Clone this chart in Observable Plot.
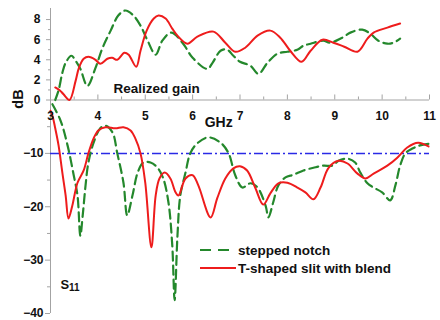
<!DOCTYPE html>
<html>
<head>
<meta charset="utf-8">
<script src="https://cdn.jsdelivr.net/npm/d3@7"></script>
<script src="https://cdn.jsdelivr.net/npm/@observablehq/plot@0.6"></script>
<style>
  html, body { margin: 0; padding: 0; background: #fff; }
  #chart { position: relative; width: 440px; height: 320px; overflow: hidden;
           font-family: "Liberation Sans", Arial, sans-serif; }
  #chart svg.plotlayer { position: absolute; left: 0; top: 0; }
  .legend-row { position: absolute; display: flex; align-items: center;
                font: bold 13.5px "Liberation Sans", Arial, sans-serif; color: #111; white-space: nowrap; }
  .legend-row svg { display: block; margin-right: 2px; }
</style>
</head>
<body>
<div id="chart"></div>
<script>
// Frequency axis (GHz)
const xMajor = [3, 4, 5, 6, 7, 8, 9, 10, 11];
const xMinor = [3.5, 4.5, 5.5, 6.5, 7.5, 8.5, 9.5, 10.5];

// Realized gain axis (dB)
const gainTicks = [0, 2, 4, 6, 8];
const gainMinor = [1, 3, 5, 7];

// S11 axis (dB)
const s11Ticks = [-10, -20, -30, -40];
const s11Minor = [-5, -15, -25, -35];
const s11Threshold = [-10];

const seriesNames = ["stepped notch", "T-shaped slit with blend"];

// Realized gain — T-shaped slit with blend
const gainRedFreq = [3.1, 3.2, 3.27, 3.4, 3.53, 3.6, 3.7, 3.8, 3.95, 4.05, 4.2, 4.3, 4.41, 4.56, 4.65, 4.81, 4.9, 5.03, 5.18, 5.28, 5.43, 5.57, 5.68, 5.89, 6.1, 6.44, 6.69, 6.9, 7.11, 7.37, 7.64, 7.85, 8.06, 8.3, 8.49, 8.74, 8.97, 9.2, 9.48, 9.69, 9.82, 10.11, 10.38];
const gainRed     = [1.25, 0.95, 0.6, 0.0, 1.9, 3.2, 4.1, 4.3, 4.0, 3.6, 4.1, 4.2, 4.0, 4.7, 4.5, 3.3, 4.9, 6.9, 8.1, 8.4, 8.1, 7.1, 6.4, 5.6, 6.3, 6.8, 5.7, 4.8, 5.2, 6.4, 6.9, 6.2, 4.9, 3.8, 4.9, 6.0, 5.7, 5.3, 4.8, 6.1, 6.7, 7.2, 7.6];

// Realized gain — stepped notch
const gainGreenFreq = [3.1, 3.17, 3.25, 3.32, 3.44, 3.53, 3.63, 3.78, 3.95, 4.1, 4.27, 4.43, 4.58, 4.75, 4.9, 5.05, 5.22, 5.36, 5.55, 5.8, 6.0, 6.31, 6.42, 6.59, 6.73, 6.86, 7.0, 7.22, 7.39, 7.58, 7.79, 8.0, 8.21, 8.34, 8.49, 8.76, 8.9, 9.16, 9.33, 9.58, 9.75, 9.92, 10.11, 10.24, 10.38];
const gainGreen     = [0.0, 0.95, 2.7, 3.7, 4.4, 3.9, 3.1, 1.4, 3.2, 5.2, 6.9, 8.4, 8.9, 8.4, 7.4, 5.9, 4.5, 5.9, 6.7, 5.6, 4.2, 3.1, 3.7, 4.9, 5.0, 4.4, 3.8, 3.4, 2.6, 3.7, 4.6, 4.8, 5.0, 5.4, 5.6, 5.9, 5.7, 6.2, 6.7, 7.0, 6.6, 5.9, 5.6, 5.7, 6.1];

// S11 — T-shaped slit with blend
const s11RedFreq = [3.0, 3.04, 3.1, 3.17, 3.25, 3.32, 3.38, 3.46, 3.57, 3.7, 3.8, 3.91, 4.01, 4.16, 4.37, 4.54, 4.69, 4.79, 4.9, 5.0, 5.13, 5.22, 5.3, 5.41, 5.53, 5.64, 5.7, 5.85, 6.0, 6.12, 6.38, 6.52, 6.69, 6.86, 7.0, 7.15, 7.32, 7.49, 7.64, 7.81, 8.0, 8.21, 8.38, 8.55, 8.7, 8.87, 9.08, 9.27, 9.48, 9.65, 9.82, 10.11, 10.32, 10.53, 10.76, 10.98];
const s11Red     = [-2.0, -2.9, -5.3, -8.5, -13.6, -17.9, -22.2, -19.8, -15.5, -13.2, -10, -7.2, -5.7, -5.1, -5.3, -5.1, -5.7, -7.2, -10, -15.5, -27.6, -17.9, -14.7, -13.6, -14.7, -17.3, -17.9, -14.7, -14.1, -16, -22, -18.4, -14.7, -12.8, -12.4, -13.2, -16.4, -19.6, -17.5, -15.6, -15.5, -16.4, -17.3, -18.6, -16.4, -12.7, -11.4, -11.9, -13.8, -14.7, -13.8, -12.3, -10.8, -8.9, -8.0, -8.7];

// S11 — stepped notch
const s11GreenFreq = [3.04, 3.21, 3.36, 3.49, 3.57, 3.63, 3.68, 3.74, 3.8, 3.91, 4.05, 4.16, 4.31, 4.41, 4.54, 4.62, 4.73, 4.84, 4.96, 5.11, 5.26, 5.38, 5.49, 5.57, 5.62, 5.68, 5.74, 5.85, 5.95, 6.1, 6.33, 6.59, 6.76, 6.9, 7.05, 7.22, 7.37, 7.54, 7.6, 7.7, 7.81, 7.96, 8.13, 8.34, 8.55, 8.76, 8.95, 9.08, 9.27, 9.43, 9.54, 9.69, 9.82, 10.0, 10.17, 10.28, 10.38, 10.49, 10.64, 10.8, 10.98];
const s11Green     = [-0.8, -3.8, -8.5, -14.1, -17.9, -25.4, -21.6, -16, -11.7, -8, -5.3, -4.8, -6.1, -10, -15.5, -21.6, -17.9, -13.6, -11.7, -11.7, -12.7, -14.7, -19.2, -27.2, -37.5, -25.4, -17.9, -13.6, -10, -8.1, -7.0, -8, -10, -14.1, -16.4, -15.6, -16.4, -19.8, -22, -19.2, -16, -14.5, -14, -13.2, -12.7, -12.3, -12.3, -11.4, -11.0, -11.7, -13.6, -15.6, -16.4, -17.3, -18.8, -16, -12.3, -10, -9.1, -8.5, -8.2];

const RED = "#ee1c1c";
const GREEN = "#24882c";
const BLUE = "#2a2ae6";
const AXIS = "#a3a3a3";
const INK = "#111";
const FONT = "'Liberation Sans', Arial, sans-serif";
const DASH = "9,5";

const toRows = (fs, vs) => fs.map((f, i) => ({f, v: vs[i]}));

const layerStyle = `background: transparent; overflow: visible; font-family: ${FONT};`;

// Upper panel: realized gain, with the shared frequency axis along its bottom edge
const gainPlot = Plot.plot({
  width: 440, height: 320,
  marginLeft: 50, marginRight: 11, marginTop: 8, marginBottom: 220.5,
  style: layerStyle,
  x: {domain: [3, 11], axis: null},
  y: {domain: [0, 9.1], axis: null},
  marks: [
    Plot.ruleX([3], {stroke: AXIS}),
    Plot.ruleY([0], {stroke: AXIS}),
    Plot.ruleX(xMinor, {x: d => d, y1: 0, y2: 0.3, stroke: AXIS}),
    Plot.ruleX(xMajor, {x: d => d, y1: 0, y2: 0.5, stroke: AXIS}),
    Plot.axisY({ticks: gainTicks, tickSize: 4, tickPadding: 6, stroke: AXIS, fill: INK,
                fontSize: 12, fontWeight: "bold", label: null}),
    Plot.axisY({ticks: gainMinor, tickSize: 2, tickFormat: () => "", stroke: AXIS, label: null}),
    Plot.axisX({ticks: xMajor, tickSize: 0, tickPadding: 11.5, fill: INK,
                fontSize: 12, fontWeight: "bold", label: null}),
    Plot.text(["GHz"], {x: 6.55, y: 0, dy: 22.5, fontSize: 14, fontWeight: "bold", fill: INK}),
    Plot.text(["dB"], {x: 3, y: 0, dx: -32, dy: -1, rotate: -90, fontSize: 14.5, fontWeight: "bold", fill: INK}),
    Plot.text(["Realized gain"], {x: 4.33, y: 1.15, textAnchor: "start", fontSize: 13.5, fontWeight: "bold", fill: INK}),
    Plot.line(toRows(gainGreenFreq, gainGreen), {x: "f", y: "v", stroke: GREEN, strokeWidth: 2.2,
              strokeDasharray: DASH, curve: "catmull-rom"}),
    Plot.line(toRows(gainRedFreq, gainRed), {x: "f", y: "v", stroke: RED, strokeWidth: 2, curve: "catmull-rom"})
  ]
});

// Lower panel: reflection coefficient S11 with the -10 dB reference line
const s11Plot = Plot.plot({
  width: 440, height: 320,
  marginLeft: 50, marginRight: 11, marginTop: 99.5, marginBottom: 7,
  style: layerStyle,
  x: {domain: [3, 11], axis: null},
  y: {domain: [-40, 0], axis: null},
  marks: [
    Plot.ruleX([3], {stroke: AXIS}),
    Plot.ruleY(s11Threshold, {stroke: BLUE, strokeWidth: 1.5, strokeDasharray: "9,3,2,3"}),
    Plot.axisY({ticks: s11Ticks, tickSize: 5, tickPadding: 2, stroke: AXIS, fill: INK,
                fontSize: 12, fontWeight: "bold", label: null}),
    Plot.axisY({ticks: s11Minor, tickSize: 3, tickFormat: () => "", stroke: AXIS, label: null}),
    Plot.text(["S"], {x: 3, y: -34.6, dx: 10, textAnchor: "start", fontSize: 13, fontWeight: "bold", fill: INK}),
    Plot.text(["11"], {x: 3, y: -34.6, dx: 18.5, dy: 3, textAnchor: "start", fontSize: 10, fontWeight: "bold", fill: INK}),
    Plot.line(toRows(s11GreenFreq, s11Green), {x: "f", y: "v", stroke: GREEN, strokeWidth: 2.2,
              strokeDasharray: DASH, curve: "catmull-rom"}),
    Plot.line(toRows(s11RedFreq, s11Red), {x: "f", y: "v", stroke: RED, strokeWidth: 2, curve: "catmull-rom"})
  ]
});

const chart = document.getElementById("chart");
for (const p of [s11Plot, gainPlot]) {
  p.classList.add("plotlayer");
  chart.appendChild(p);
}

// Legend
const legend = [
  {name: seriesNames[0], color: GREEN, dash: DASH, top: 241, gap: 8},
  {name: seriesNames[1], color: RED, dash: null, top: 259, gap: 2}
];
for (const item of legend) {
  const row = document.createElement("div");
  row.className = "legend-row";
  row.style.left = "200px";
  row.style.top = item.top + "px";
  const ns = "http://www.w3.org/2000/svg";
  const sw = document.createElementNS(ns, "svg");
  const w = 38 - item.gap;
  sw.setAttribute("width", String(w));
  sw.setAttribute("height", "18");
  sw.style.marginRight = item.gap + "px";
  const ln = document.createElementNS(ns, "line");
  ln.setAttribute("x1", "0"); ln.setAttribute("x2", String(w));
  ln.setAttribute("y1", "9"); ln.setAttribute("y2", "9");
  ln.setAttribute("stroke", item.color);
  ln.setAttribute("stroke-width", "2.2");
  if (item.dash) ln.setAttribute("stroke-dasharray", "11,7");
  sw.appendChild(ln);
  const label = document.createElement("span");
  label.textContent = item.name;
  row.appendChild(sw);
  row.appendChild(label);
  chart.appendChild(row);
}
</script>
</body>
</html>
